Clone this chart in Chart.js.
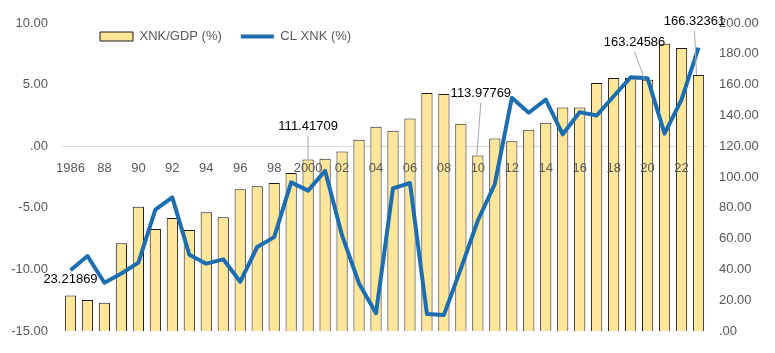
<!DOCTYPE html>
<html>
<head>
<meta charset="utf-8">
<script src="https://cdn.jsdelivr.net/npm/chart.js@4.4.1/dist/chart.umd.min.js"></script>
<style>
  body { margin: 0; background: #fff; }
</style>
</head>
<body>
<canvas id="chart" width="775" height="353"></canvas>
<script>
// years on the category axis
var years = ['1986', '1987', '1988', '1989', '1990', '1991', '1992', '1993', '1994', '1995',
  '1996', '1997', '1998', '1999', '2000', '2001', '2002', '2003', '2004', '2005',
  '2006', '2007', '2008', '2009', '2010', '2011', '2012', '2013', '2014', '2015',
  '2016', '2017', '2018', '2019', '2020', '2021', '2022', '2023'];

// what is printed under the axis (every other year)
var xTickLabels = ['1986', '', '88', '', '90', '', '92', '', '94', '', '96', '', '98', '',
  '2000', '', '02', '', '04', '', '06', '', '08', '', '10', '', '12', '', '14', '', '16', '',
  '18', '', '20', '', '22', ''];

// XNK/GDP (%) - bars, right axis
var xnkGdp = [23.21869, 20.2, 18.5, 57.0, 80.8, 66.3, 73.4, 65.6, 77.2, 74.0,
  92.1, 94.0, 96.1, 102.6, 111.41709, 111.9, 116.6, 124.3, 132.7, 130.1,
  138.1, 154.6, 154.0, 134.6, 113.97769, 125.0, 123.2, 130.8, 135.3, 145.2,
  145.2, 161.1, 164.3, 164.3, 163.24586, 186.5, 183.7, 166.32361];

// CL XNK (%) - line, left axis
var clXnk = [-10.06, -8.90, -11.07, -10.32, -9.44, -5.13, -4.14, -8.79, -9.52, -9.17,
  -10.99, -8.17, -7.37, -2.93, -3.60, -1.99, -7.23, -11.13, -13.55, -3.41,
  -2.98, -13.60, -13.68, -9.92, -6.02, -3.06, 3.93, 2.72, 3.79, 0.97,
  2.77, 2.50, 4.06, 5.59, 5.51, 1.02, 3.79, 8.01];

var leftTicks = [-15, -10, -5, 0, 5, 10];
var rightTicks = [0, 20, 40, 60, 80, 100, 120, 140, 160, 180, 200];

function fmt(v) {
  return v === 0 ? '.00' : v.toFixed(2);
}

Chart.defaults.font.family = "'Liberation Sans', Arial, sans-serif";
Chart.defaults.font.size = 13;
Chart.defaults.color = '#595959';

// labels on some of the bars, offsets in px from the bar top
var barLabels = [
  { i: 0, dx: 0, dy: -16, lead: false },
  { i: 14, dx: 0, dy: -33, lead: true, lx: 0 },
  { i: 24, dx: 3, dy: -62, lead: true, lx: -1 },
  { i: 34, dx: -13, dy: -37, lead: true, lx: -3 },
  { i: 37, dx: -4, dy: -53, lead: true, lx: -2 }
];

var barLabelPlugin = {
  id: 'barLabels',
  afterDatasetsDraw: function (chart) {
    var ctx = chart.ctx;
    var meta = chart.getDatasetMeta(0);
    var data = chart.data.datasets[0].data;
    ctx.save();
    barLabels.forEach(function (l) {
      var bar = meta.data[l.i];
      var tx = bar.x + l.dx, ty = bar.y + l.dy;
      if (l.lead) {
        ctx.strokeStyle = '#A6A6A6';
        ctx.lineWidth = 1;
        ctx.beginPath();
        ctx.moveTo(tx, ty + 9);
        ctx.lineTo(bar.x + l.lx, bar.y);
        ctx.stroke();
      }
      ctx.font = "13px 'Liberation Sans', Arial, sans-serif";
      ctx.fillStyle = '#000';
      ctx.textAlign = 'center';
      ctx.textBaseline = 'middle';
      ctx.fillText(String(data[l.i]), tx, ty);
    });
    ctx.restore();
  }
};

// legend sits inside the plot, one row, upper left
var legendSpot = {
  id: 'legendSpot',
  beforeLayout: function (chart) {
    chart.legend.isHorizontal = function () { return true; };
  },
  afterLayout: function (chart) {
    var lg = chart.legend;
    var w = lg.right - lg.left;
    lg.left = 81;
    lg.right = 81 + w;
    lg.top = 11;
  }
};

new Chart(document.getElementById('chart'), {
  type: 'bar',
  data: {
    labels: years,
    datasets: [
      {
        label: 'XNK/GDP (%)',
        data: xnkGdp,
        yAxisID: 'yR',
        backgroundColor: '#FFE699',
        borderColor: '#1a1a1a',
        borderWidth: 1,
        barPercentage: 0.66,
        categoryPercentage: 1,
        order: 1
      },
      {
        type: 'line',
        label: 'CL XNK (%)',
        data: clXnk,
        yAxisID: 'yL',
        borderColor: '#1C6EB1',
        backgroundColor: '#1C6EB1',
        borderWidth: 4,
        borderJoinStyle: 'round',
        pointRadius: 0,
        tension: 0,
        order: 0
      }
    ]
  },
  options: {
    responsive: false,
    animation: false,
    layout: { padding: { top: 23, left: 0, right: 0, bottom: 0 } },
    plugins: {
      tooltip: { enabled: false },
      legend: {
        position: 'chartArea',
        align: 'start',
        labels: {
          usePointStyle: true,
          pointStyleWidth: 33,
          boxHeight: 9,
          padding: 19,
          color: '#595959',
          font: { size: 13 },
          sort: function (a, b) { return a.datasetIndex - b.datasetIndex; },
          generateLabels: function (chart) {
            var items = Chart.defaults.plugins.legend.labels.generateLabels(chart);
            items.forEach(function (it) {
              it.pointStyle = it.datasetIndex === 0 ? 'rect' : 'line';
            });
            return items;
          }
        }
      }
    },
    scales: {
      x: {
        position: { yL: 0 },
        grid: { display: false },
        border: { display: false },
        ticks: {
          z: 1,
          autoSkip: false,
          maxRotation: 0,
          padding: 6,
          callback: function (v, i) { return xTickLabels[i]; }
        },
        afterFit: function (s) { s.height = 20; }
      },
      yL: {
        position: 'left',
        min: -15,
        max: 10,
        grid: {
          drawTicks: false,
          color: function (c) { return c.tick && c.tick.value === 0 ? '#D9D9D9' : 'rgba(0,0,0,0)'; }
        },
        border: { display: false },
        afterBuildTicks: function (s) { s.ticks = leftTicks.map(function (v) { return { value: v }; }); },
        ticks: { padding: 14, callback: fmt },
        afterFit: function (s) { s.width = 62; }
      },
      yR: {
        position: 'right',
        min: 0,
        max: 200,
        grid: { display: false, drawTicks: false },
        border: { display: false },
        afterBuildTicks: function (s) { s.ticks = rightTicks.map(function (v) { return { value: v }; }); },
        ticks: { padding: 12, callback: fmt },
        afterFit: function (s) { s.width = 68; }
      }
    }
  },
  plugins: [barLabelPlugin, legendSpot]
});
</script>
</body>
</html>
